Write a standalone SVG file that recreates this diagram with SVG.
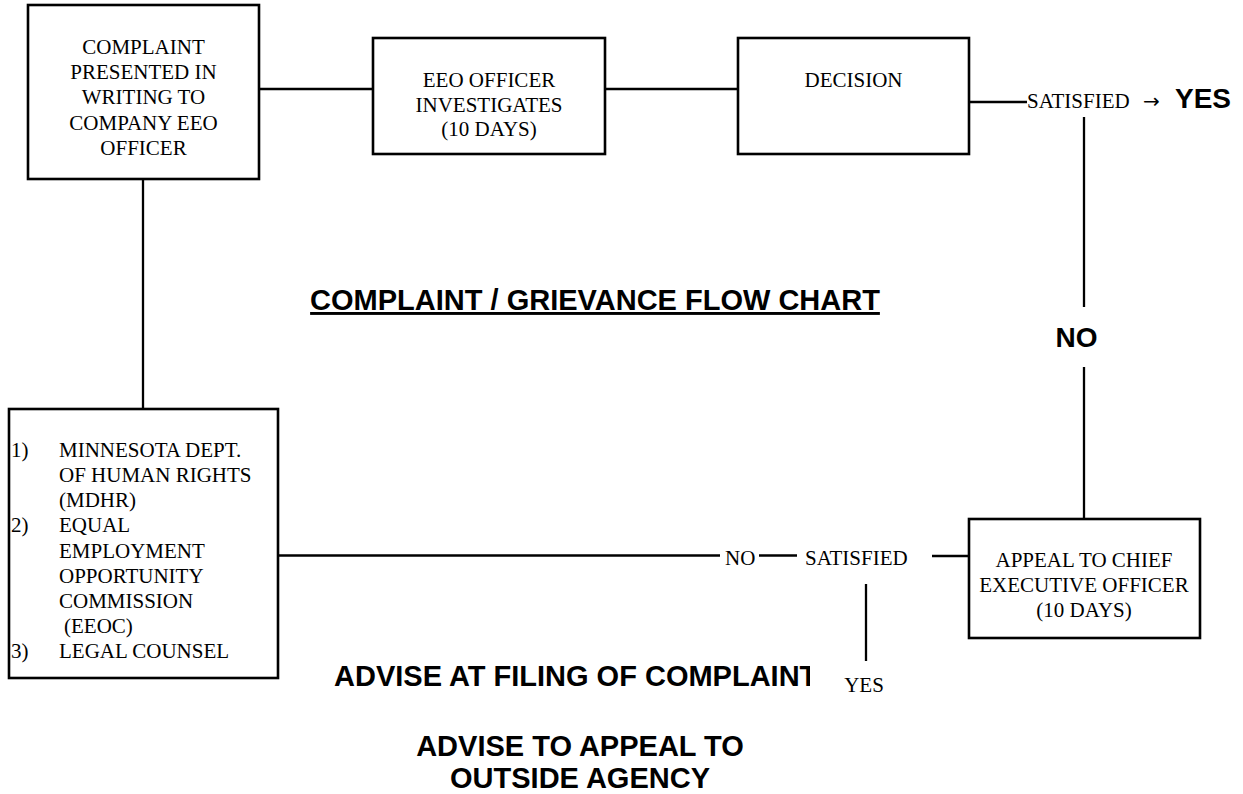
<svg xmlns="http://www.w3.org/2000/svg" width="1243" height="794" viewBox="0 0 1243 794">
<style>
.box{fill:#fff;stroke:#000;stroke-width:2.6}
.ln{stroke:#000;stroke-width:2.3;fill:none}
.t{font-family:"Liberation Serif","Times New Roman",serif;font-size:21px;fill:#000}
.c{text-anchor:middle}
.b{font-family:"Liberation Sans",Arial,sans-serif;font-weight:bold;font-size:29px;fill:#000}
.b28{font-family:"Liberation Sans",Arial,sans-serif;font-weight:bold;font-size:28px;fill:#000}
.arr{font-family:"DejaVu Sans",sans-serif;font-size:20px;fill:#000}
</style>
<defs>
<clipPath id="clipAdvise"><rect x="300" y="640" width="510" height="60"/></clipPath>
</defs>
<rect width="1243" height="794" fill="#fff"/>
<g id="connectors">
<line class="ln" x1="259" y1="89" x2="373" y2="89"/>
<line class="ln" x1="605" y1="89" x2="738" y2="89"/>
<line class="ln" x1="969" y1="102" x2="1027" y2="102"/>
<line class="ln" x1="1084" y1="117" x2="1084" y2="307"/>
<line class="ln" x1="1084" y1="367" x2="1084" y2="519"/>
<line class="ln" x1="143" y1="179" x2="143" y2="409"/>
<line class="ln" x1="278" y1="555.5" x2="720" y2="555.5"/>
<line class="ln" x1="759" y1="555.5" x2="797" y2="555.5"/>
<line class="ln" x1="932" y1="556" x2="969" y2="556"/>
<line class="ln" x1="866" y1="584" x2="866" y2="661"/>
<text class="t" x="1027" y="108">SATISFIED</text>
<text class="arr" x="1143" y="108">→</text>
<text class="b28" x="1175" y="108">YES</text>
<text class="b28" x="1076.5" y="347" text-anchor="middle">NO</text>
<text class="t" x="725" y="565">NO</text>
<text class="t" x="805" y="565">SATISFIED</text>
<text class="t c" x="864" y="692">YES</text>
</g>
<g id="complaint">
<rect class="box" x="28" y="5" width="231" height="174"/>
<text class="t c" x="143.5" y="54">COMPLAINT</text>
<text class="t c" x="143.5" y="79">PRESENTED IN</text>
<text class="t c" x="143.5" y="104">WRITING TO</text>
<text class="t c" x="143.5" y="129.5">COMPANY EEO</text>
<text class="t c" x="143.5" y="154.5">OFFICER</text>
</g>
<g id="investigates">
<rect class="box" x="373" y="38" width="232" height="116"/>
<text class="t c" x="489" y="87">EEO OFFICER</text>
<text class="t c" x="489" y="112">INVESTIGATES</text>
<text class="t c" x="489" y="136">(10 DAYS)</text>
</g>
<g id="decision">
<rect class="box" x="738" y="38" width="231" height="116"/>
<text class="t c" x="853.5" y="87">DECISION</text>
</g>
<g id="appeal">
<rect class="box" x="969" y="519" width="231" height="119"/>
<text class="t c" x="1084" y="567">APPEAL TO CHIEF</text>
<text class="t c" x="1084" y="592">EXECUTIVE OFFICER</text>
<text class="t c" x="1084" y="617">(10 DAYS)</text>
</g>
<g id="agencies">
<rect class="box" x="9" y="409" width="269" height="269"/>
<text class="t" x="11" y="457">1)</text>
<text class="t" x="59" y="457">MINNESOTA DEPT.</text>
<text class="t" x="59" y="482">OF HUMAN RIGHTS</text>
<text class="t" x="59" y="507">(MDHR)</text>
<text class="t" x="11" y="532">2)</text>
<text class="t" x="59" y="532">EQUAL</text>
<text class="t" x="59" y="557.5">EMPLOYMENT</text>
<text class="t" x="59" y="582.5">OPPORTUNITY</text>
<text class="t" x="59" y="607.5">COMMISSION</text>
<text class="t" x="64" y="633">(EEOC)</text>
<text class="t" x="11" y="658">3)</text>
<text class="t" x="59" y="658">LEGAL COUNSEL</text>
</g>
<g id="labels">
<text class="b" x="595" y="310" text-anchor="middle" text-decoration="underline">COMPLAINT / GRIEVANCE FLOW CHART</text>
<text class="b" x="334" y="686" clip-path="url(#clipAdvise)">ADVISE AT FILING OF COMPLAINT</text>
<text class="b" x="580" y="756" text-anchor="middle">ADVISE TO APPEAL TO</text>
<text class="b" x="580" y="788" text-anchor="middle">OUTSIDE AGENCY</text>
</g>
</svg>
